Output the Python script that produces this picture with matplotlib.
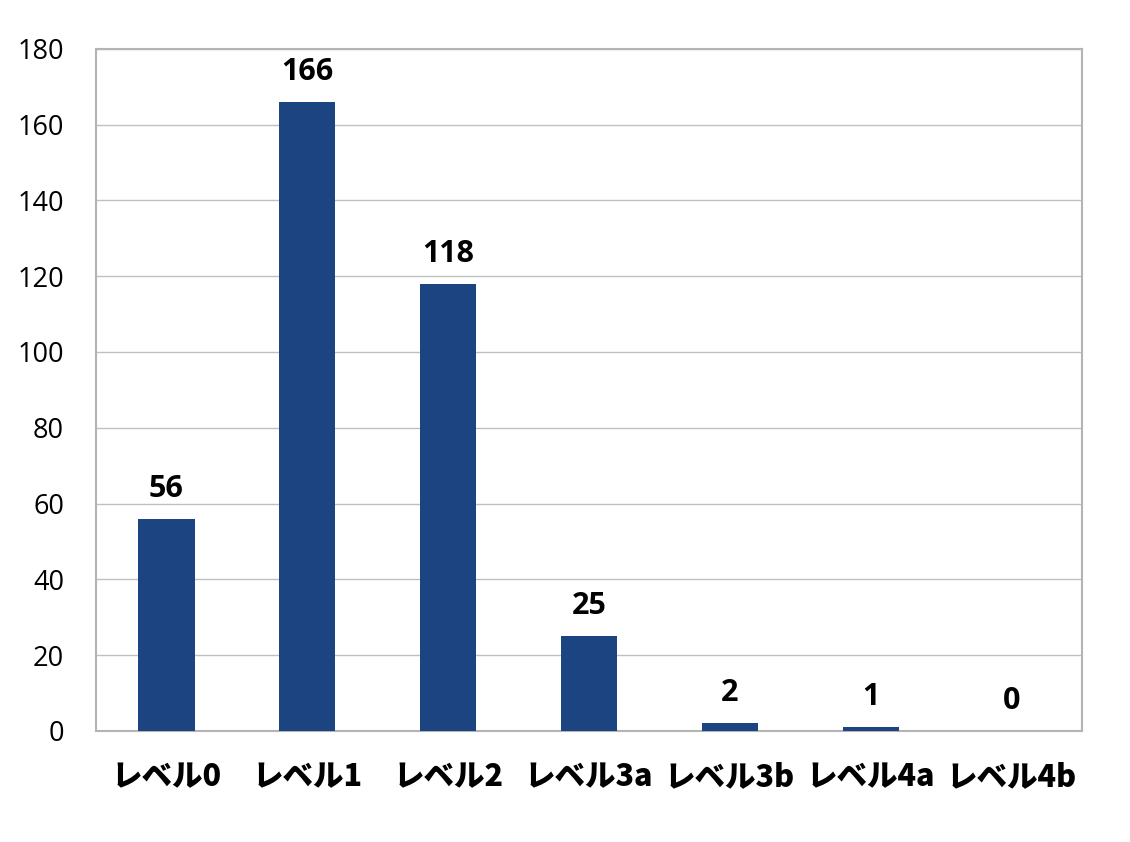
import numpy as np
import matplotlib.pyplot as plt

plt.rcParams['font.family'] = ['Noto Sans CJK JP', 'DejaVu Sans']

categories = ['レベル0', 'レベル1', 'レベル2', 'レベル3a', 'レベル3b', 'レベル4a', 'レベル4b']
counts = [56, 166, 118, 25, 2, 1, 0]
yticks = [0, 20, 40, 60, 80, 100, 120, 140, 160, 180]

fig = plt.figure(figsize=(11.3, 8.42), dpi=100)
ax = fig.add_axes([0.085, 0.132, 0.8725, 0.81])

x = np.arange(len(categories))
ax.bar(x, counts, width=0.40, color='#1B4480', zorder=3)

for xi, v in zip(x, counts):
    ax.text(xi, v + 4, str(v), ha='center', va='bottom',
            fontsize=22, fontweight='bold', family=['Open Sans', 'DejaVu Sans'])

ax.set_xlim(-0.5, len(categories) - 0.5)
ax.set_ylim(0, 180)
ax.set_yticks(yticks)
ax.set_yticklabels([str(t) for t in yticks], fontsize=19.5, family=['Open Sans', 'DejaVu Sans'])
ax.set_xticks(x)
ax.set_xticklabels(categories, fontsize=22, fontweight='heavy')
ax.tick_params(axis='both', length=0)
ax.tick_params(axis='y', pad=23)
ax.tick_params(axis='x', pad=22)

ax.grid(axis='y', color='#C0C0C0', linewidth=1, zorder=0)
for s in ax.spines.values():
    s.set_color('#B4B4B4')
    s.set_linewidth(1.5)

plt.savefig('out.png', dpi=100)
